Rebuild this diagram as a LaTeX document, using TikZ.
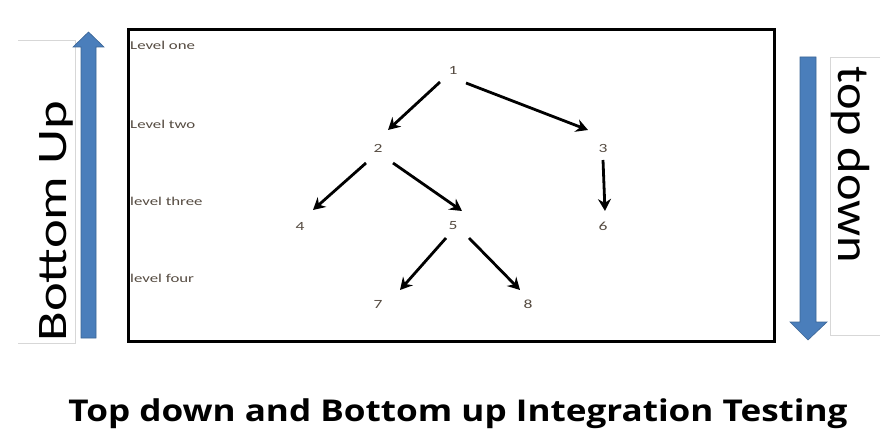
\documentclass[tikz,border=0pt]{standalone}
\usepackage{fontspec}
\setmainfont{Carlito}
\newfontfamily\titlefont[FakeStretch=1.17]{Open Sans}
\newfontfamily\lblfont[FakeStretch=1.4]{Carlito}
\newfontfamily\bufont[FakeStretch=1.3]{Carlito}
\newfontfamily\tdfont[FakeStretch=1.12]{Carlito}
\usetikzlibrary{arrows.meta}
\definecolor{arrowblue}{RGB}{74,126,187}
\definecolor{levelgray}{RGB}{85,75,65}
\definecolor{thingray}{RGB}{215,215,215}
\tikzset{
  num/.style={font=\lblfont\fontsize{12.5}{14}\selectfont, text=levelgray, inner sep=1pt},
  lvl/.style={font=\lblfont\fontsize{12}{14}\selectfont, text=levelgray, anchor=west, inner sep=0pt},
  edge/.style={line width=2.8pt, -{Stealth[length=12pt,width=13pt,inset=4pt]}},
  bigarrow/.style={fill=arrowblue, draw=arrowblue!80!black, line width=0.6pt},
}
\begin{document}
\begin{tikzpicture}[x=1pt,y=-1pt]
\useasboundingbox (0,0) rectangle (886,430);
% frame
\draw[line width=3pt] (128,30) rectangle (774,341);
% level labels
\node[lvl] (l1) at (130,45) {Level one};
\node[lvl] (l2) at (130,124) {Level two};
\node[lvl] (l3) at (130,201) {level three};
\node[lvl] (l4) at (130,278) {level four};
% nodes
\node[num] (n1) at (453,70) {1};
\node[num] (n2) at (378,148) {2};
\node[num] (n3) at (603,148) {3};
\node[num] (n4) at (300,226) {4};
\node[num] (n5) at (453,226) {5};
\node[num] (n6) at (603,226) {6};
\node[num] (n7) at (378,304) {7};
\node[num] (n8) at (528,304) {8};
% edges
\draw[edge] ([shift={(-13,12)}]n1.center) -- ([shift={(10,-18)}]n2.center);
\draw[edge] ([shift={(13,13)}]n1.center) -- ([shift={(-15,-18)}]n3.center);
\draw[edge] ([shift={(-12,15)}]n2.center) -- ([shift={(13,-16)}]n4.center);
\draw[edge] ([shift={(15,15)}]n2.center) -- ([shift={(9,-15)}]n5.center);
\draw[edge] ([shift={(0,12)}]n3.center) -- ([shift={(2,-15)}]n6.center);
\draw[edge] ([shift={(-7,12)}]n5.center) -- ([shift={(22,-14)}]n7.center);
\draw[edge] ([shift={(16,12)}]n5.center) -- ([shift={(-8,-14)}]n8.center);
% left side
\draw[thingray, line width=0.8pt] (18,40) -- (75,40) -- (75,343) -- (18,343);
\node[font=\bufont\fontsize{42}{44}\selectfont, rotate=90, anchor=base] (bu) at (66,221) {Bottom Up};
\fill[bigarrow] (81,338) -- (81,47) -- (73,47) -- (88.5,32) -- (104,47) -- (96,47) -- (96,338) -- cycle;
% right side
\draw[thingray, line width=0.8pt] (880,57) -- (830,57) -- (830,335) -- (880,335);
\node[font=\tdfont\fontsize{45}{47}\selectfont, rotate=-90, anchor=base] (td) at (838,165) {top down};
\fill[bigarrow] (800,57) -- (800,322) -- (790,322) -- (808,340) -- (827,322) -- (816,322) -- (816,57) -- cycle;
% title
\node[font=\titlefont\bfseries\fontsize{30}{32}\selectfont, anchor=base] (title) at (458,421) {Top down and Bottom up Integration Testing};
\end{tikzpicture}
\end{document}
